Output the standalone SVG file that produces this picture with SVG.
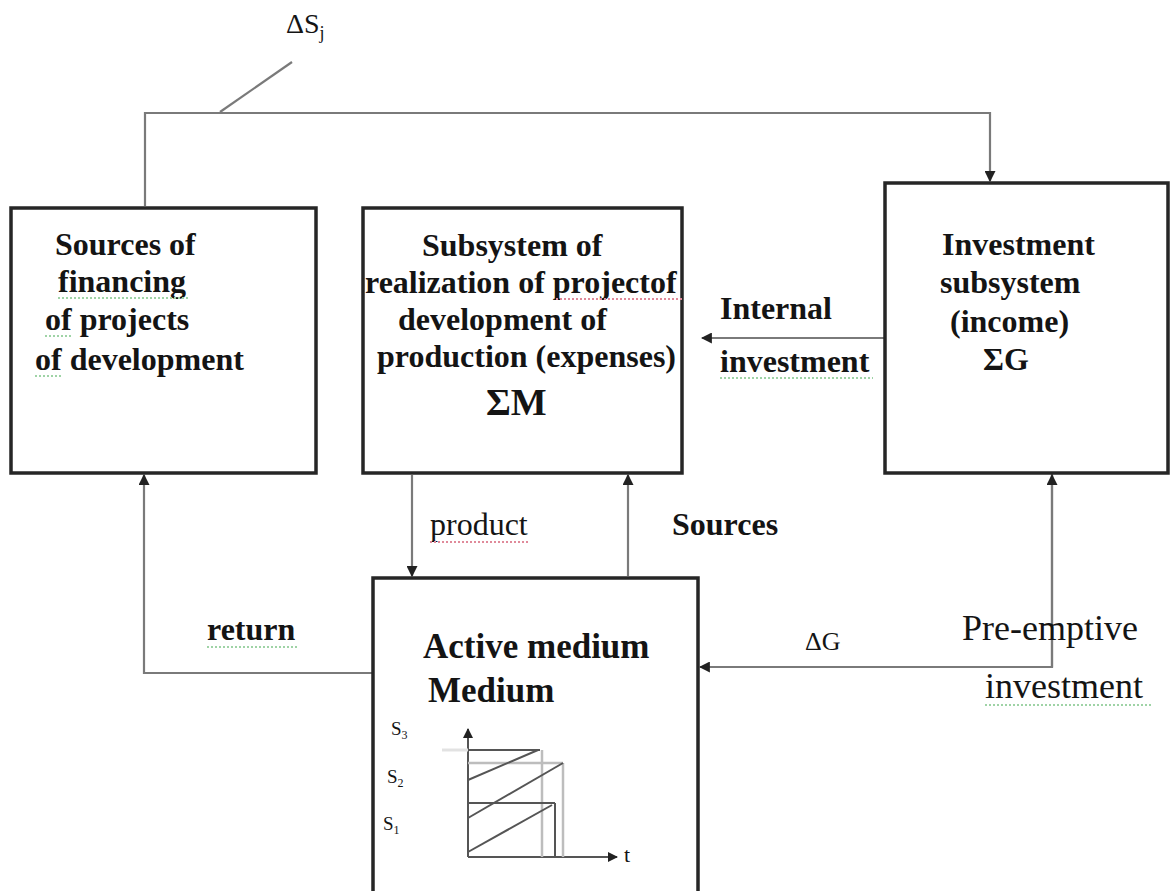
<svg xmlns="http://www.w3.org/2000/svg" width="1171" height="891" viewBox="0 0 1171 891">
<style>
  .box { fill: #ffffff; stroke: #262626; stroke-width: 3.5; }
  .conn { fill: none; stroke: #7a7a7a; stroke-width: 2.2; }
  .t { font-family: "Liberation Serif", "Times New Roman", serif; fill: #141414; }
  .b { font-weight: bold; font-size: 32px; }
  .r { font-size: 32px; }
  .sq-g { stroke: #9fd3a6; stroke-width: 2; stroke-dasharray: 2 2; fill: none; }
  .sq-r { stroke: #e08a9a; stroke-width: 2; stroke-dasharray: 2 2; fill: none; }
  .g { fill: none; stroke: #555; stroke-width: 2; }
  .gl { fill: none; stroke: #bdbdbd; stroke-width: 2.5; }
</style>
<defs>
  <marker id="ah" viewBox="0 0 10 10" refX="9" refY="5" markerWidth="5" markerHeight="5" orient="auto" markerUnits="strokeWidth">
    <path d="M0,0 L10,5 L0,10 z" fill="#222"/>
  </marker>
</defs>
<rect width="1171" height="891" fill="#ffffff"/>

<g id="connectors">
  <path class="conn" d="M145,206 V113 H990 V181" marker-end="url(#ah)"/>
  <line class="conn" x1="292" y1="62" x2="220" y2="112"/>
  <line class="conn" x1="885" y1="338" x2="702" y2="338" marker-end="url(#ah)"/>
  <line class="conn" x1="412" y1="475" x2="412" y2="576" marker-end="url(#ah)"/>
  <line class="conn" x1="628" y1="576" x2="628" y2="475" marker-end="url(#ah)"/>
  <path class="conn" d="M372,673 H144 V475" marker-end="url(#ah)"/>
  <path class="conn" d="M1052,473 V667 H700" marker-end="url(#ah)"/>
  <path class="conn" d="M1052,667 V475" marker-end="url(#ah)"/>
</g>

<g id="label-dSj">
  <text class="t" x="286" y="33" font-size="28" fill="#3a3a3a">ΔS<tspan font-size="18" dy="6">j</tspan></text>
</g>

<g id="node-sources">
  <rect class="box" x="11" y="208" width="305" height="265"/>
  <text class="t b" x="55" y="255">Sources of</text>
  <text class="t b" x="58" y="292">financing</text>
  <path class="sq-g" d="M58,298 H188"/>
  <text class="t b" x="45" y="330">of projects</text>
  <path class="sq-g" d="M45,336 H72"/>
  <text class="t b" x="35" y="370">of development</text>
  <path class="sq-g" d="M35,376 H62"/>
</g>

<g id="node-subsystem">
  <rect class="box" x="363" y="208" width="319" height="265"/>
  <text class="t b" x="422" y="256">Subsystem of</text>
  <text class="t b" x="365" y="293">realization of projectof</text>
  <path class="sq-r" d="M556,299 H683"/>
  <text class="t b" x="398" y="330">development of</text>
  <text class="t b" x="377" y="367">production (expenses)</text>
  <text class="t b" x="486" y="415" style="font-size:38px">ΣM</text>
</g>

<g id="node-investment">
  <rect class="box" x="885" y="183" width="283" height="290"/>
  <text class="t b" x="942" y="255">Investment</text>
  <text class="t b" x="940" y="293">subsystem</text>
  <text class="t b" x="950" y="332">(income)</text>
  <text class="t b" x="983" y="370">ΣG</text>
</g>

<g id="node-active">
  <rect class="box" x="373" y="578" width="325" height="330"/>
  <text class="t" x="423" y="658" font-size="35" font-weight="bold">Active medium</text>
  <text class="t" x="428" y="702" font-size="35" font-weight="bold">Medium</text>
  <text class="t" x="391" y="735" font-size="19">S<tspan font-size="12" dy="4">3</tspan></text>
  <text class="t" x="387" y="783" font-size="19">S<tspan font-size="12" dy="4">2</tspan></text>
  <text class="t" x="383" y="830" font-size="19">S<tspan font-size="12" dy="4">1</tspan></text>
  <line class="g" x1="468" y1="857" x2="468" y2="729" marker-end="url(#ah)"/>
  <line class="g" x1="468" y1="857" x2="617" y2="857" marker-end="url(#ah)"/>
  <line x1="442" y1="750" x2="468" y2="750" stroke="#e2e2e2" stroke-width="3"/>
  <line class="g" x1="468" y1="750" x2="540" y2="750"/>
  <line class="gl" x1="542" y1="750" x2="542" y2="857"/>
  <line class="gl" x1="468" y1="763" x2="563" y2="763"/>
  <line class="gl" x1="563" y1="763" x2="563" y2="857"/>
  <line class="g" x1="468" y1="803" x2="555" y2="803"/>
  <line class="g" x1="555" y1="803" x2="555" y2="857"/>
  <line class="g" x1="468" y1="780" x2="538" y2="750"/>
  <line class="g" x1="468" y1="818" x2="563" y2="763"/>
  <line class="g" x1="468" y1="852" x2="552" y2="805"/>
  <text class="t" x="624" y="862" font-size="22">t</text>
</g>

<g id="labels">
  <text class="t b" x="720" y="319">Internal</text>
  <text class="t b" x="720" y="372">investment</text>
  <path class="sq-g" d="M720,378 H873"/>
  <text class="t r" x="430" y="535" fill="#333">product</text>
  <path class="sq-r" d="M430,542 H528"/>
  <text class="t b" x="672" y="535">Sources</text>
  <text class="t b" x="207" y="640">return</text>
  <path class="sq-g" d="M207,647 H297"/>
  <text class="t" x="805" y="650" font-size="26">ΔG</text>
  <text class="t" x="962" y="640" font-size="36">Pre-emptive</text>
  <text class="t" x="985" y="698" font-size="36">investment</text>
  <path class="sq-g" d="M985,705 H1152"/>
</g>
</svg>
